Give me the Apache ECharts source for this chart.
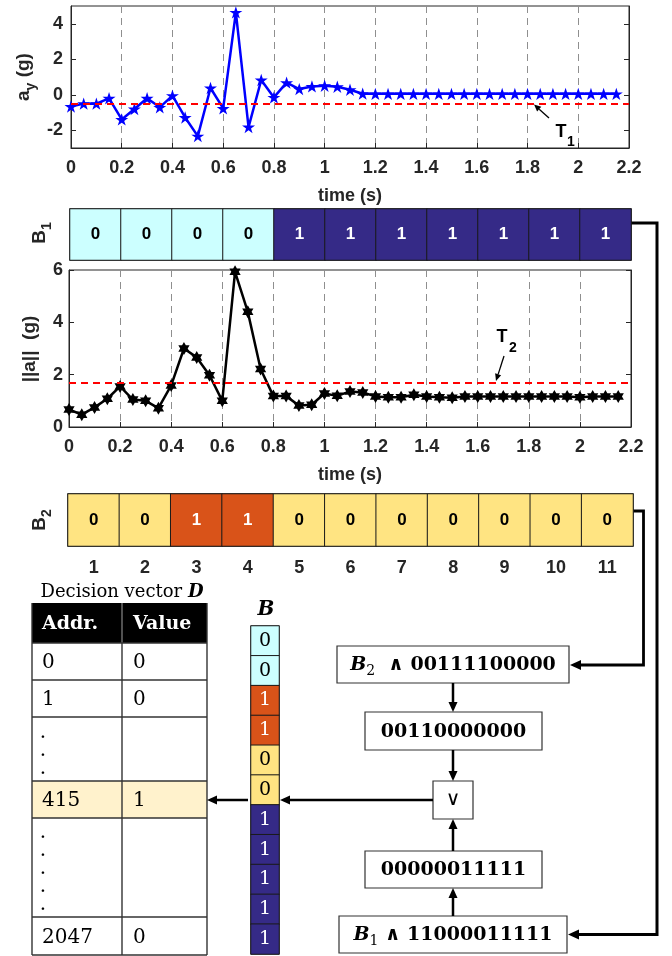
<!DOCTYPE html>
<html>
<head>
<meta charset="utf-8">
<script src="https://cdn.jsdelivr.net/npm/echarts@6/dist/echarts.min.js"></script>
<style>
html,body{margin:0;padding:0;background:#fff}
#main{width:672px;height:956px}
</style>
</head>
<body>
<div id="main"></div>
<script>
// ---- data ----
var timeS = [0,0.05,0.1,0.15,0.2,0.25,0.3,0.35,0.4,0.45,0.5,0.55,0.6,0.65,0.7,0.75,0.8,0.85,0.9,0.95,
             1,1.05,1.1,1.15,1.2,1.25,1.3,1.35,1.4,1.45,1.5,1.55,1.6,1.65,1.7,1.75,1.8,1.85,1.9,1.95,
             2,2.05,2.1,2.15];
var ayG = [-0.66,-0.5,-0.5,-0.2,-1.39,-0.8,-0.2,-0.71,-0.05,-1.28,-2.33,0.38,-0.77,4.64,-1.82,0.83,-0.15,0.68,0.32,0.47,
           0.51,0.45,0.28,0.06,0.05,0.05,0.05,0.05,0.05,0.05,0.05,0.05,0.05,0.05,0.05,0.05,0.05,0.05,0.05,0.05,
           0.05,0.05,0.05,0.05];
var accNormG = [0.67,0.47,0.75,1.08,1.55,1.05,1.0,0.72,1.59,3.0,2.66,1.98,1.0,5.93,4.4,2.22,1.18,1.18,0.82,0.85,
                1.28,1.19,1.36,1.32,1.17,1.14,1.14,1.23,1.17,1.14,1.12,1.17,1.17,1.17,1.17,1.17,1.17,1.17,1.17,1.17,
                1.14,1.17,1.17,1.17];
var T1 = -0.5;
var T2 = 1.7;
var b1Bits = [0,0,0,0,1,1,1,1,1,1,1];
var b2Bits = [0,0,1,1,0,0,0,0,0,0,0];
var windowLabels = ['1','2','3','4','5','6','7','8','9','10','11'];
var mask1 = [1,1,0,0,0,0,1,1,1,1,1];
var mask2 = [0,0,1,1,1,1,0,0,0,0,0];
var tableAddr = ['0','1','','415','','2047'];
var tableValue = ['0','0','','1','','0'];
var tableDots = [0,0,3,0,5,0];

var b1Colors = ['#CCFFFF','#352A87'];
var b2Colors = ['#FFE482','#D95319'];
var ink = '#262626';
var sans = '"Liberation Sans", Arial, sans-serif';
var serif = '"DejaVu Serif", serif';

var pentagram = 'path://M0,-10L2.245,-3.09L9.51,-3.09L3.633,1.18L5.878,8.09L0,3.82L-5.878,8.09L-3.633,1.18L-9.51,-3.09L-2.245,-3.09Z';
var hexagram = 'path://M0,-10L2.887,-5L8.66,-5L5.774,0L8.66,5L2.887,5L0,10L-2.887,5L-8.66,5L-5.774,0L-8.66,-5L-2.887,-5Z';

// B vector: B2 bits where mask2 is set, B1 bits elsewhere
var bBits = [], bColors = [];
var andB2 = '', andB1 = '';
for (var i = 0; i < b1Bits.length; i++) {
  andB2 += String(b2Bits[i] & mask2[i]);
  andB1 += String(b1Bits[i] & mask1[i]);
  if (mask2[i]) { bBits.push(b2Bits[i]); bColors.push(b2Colors[b2Bits[i]]); }
  else { bBits.push(b1Bits[i]); bColors.push(b1Colors[b1Bits[i]]); }
}

function cells(bits, colors, vertical) {
  return bits.map(function (b, k) {
    var c = colors ? colors[b] : bColors[k];
    return {
      value: vertical ? [0, k, b] : [k, 0, b],
      itemStyle: {color: c},
      label: {color: (c === '#352A87' || c === '#D95319') ? '#fff' : '#000'}
    };
  });
}

var tickFont = {color: ink, fontFamily: sans, fontWeight: 'bold', fontSize: 18};
var axisLn = {show: true, onZero: false, lineStyle: {color: ink, width: 1}};

function timeAxis(g) {
  return {
    gridIndex: g, type: 'value', min: 0, max: 2.2, interval: 0.2,
    name: 'time (s)', nameLocation: 'middle', nameGap: 39,
    nameTextStyle: tickFont,
    axisLine: axisLn,
    axisTick: {show: true, inside: true, length: 5, lineStyle: {color: ink}},
    axisLabel: Object.assign({margin: 11}, tickFont),
    splitLine: {show: true, lineStyle: {color: '#8f8f8f', type: [7, 5], width: 1}}
  };
}
function hiddenCat(g, data, inverse) {
  return {gridIndex: g, type: 'category', data: data, inverse: !!inverse,
    axisLine: {show: false}, axisTick: {show: false}, axisLabel: {show: false}, splitLine: {show: false}};
}

// ---- diagram helpers ----
function arrow(x1, y1, x2, y2, w, head) {
  var a = Math.atan2(y2 - y1, x2 - x1);
  var bx = x2 - head * Math.cos(a), by = y2 - head * Math.sin(a);
  var px = -Math.sin(a) * head * 0.45, py = Math.cos(a) * head * 0.45;
  return [
    {type: 'line', shape: {x1: x1, y1: y1, x2: bx, y2: by}, style: {stroke: '#000', lineWidth: w}},
    {type: 'polygon', shape: {points: [[x2, y2], [bx + px, by + py], [bx - px, by - py]]}, style: {fill: '#000'}}
  ];
}
function elbow(points, w, head) {
  var n = points.length;
  var last = points[n - 1], prev = points[n - 2];
  var a = Math.atan2(last[1] - prev[1], last[0] - prev[0]);
  var bx = last[0] - head * Math.cos(a), by = last[1] - head * Math.sin(a);
  var pts = points.slice(0, n - 1).concat([[bx, by]]);
  var px = -Math.sin(a) * head * 0.45, py = Math.cos(a) * head * 0.45;
  return [
    {type: 'polyline', shape: {points: pts}, style: {stroke: '#000', lineWidth: w, fill: null, lineJoin: 'miter'}},
    {type: 'polygon', shape: {points: [last, [bx + px, by + py], [bx - px, by - py]]}, style: {fill: '#000'}}
  ];
}
function box(x, y, w, h, text, rich) {
  return [
    {type: 'rect', shape: {x: x, y: y, width: w, height: h}, style: {fill: '#fff', stroke: '#333', lineWidth: 1.2}},
    {type: 'text', x: x + w / 2, y: y + h / 2 + 1,
     style: {text: text, rich: rich, align: 'center', verticalAlign: 'middle', fill: '#000',
             fontFamily: serif, fontSize: 19, fontWeight: 'bold'}}
  ];
}
var flowRich = {
  bi: {fontFamily: serif, fontSize: 19, fontWeight: 'bold', fontStyle: 'italic', fill: '#000', lineHeight: 20},
  sub: {fontFamily: serif, fontSize: 14, fill: '#000', verticalAlign: 'bottom', lineHeight: 26},
  b: {fontFamily: serif, fontSize: 19, fontWeight: 'bold', fill: '#000', lineHeight: 20}
};
var yRich = {
  n: {fontFamily: sans, fontSize: 19, fontWeight: 'bold', fill: ink, lineHeight: 22},
  s: {fontFamily: sans, fontSize: 14, fontWeight: 'bold', fill: ink, verticalAlign: 'bottom', lineHeight: 28}
};

var graphics = [];
// axis titles (rotated)
graphics.push({type: 'text', x: 24, y: 77, rotation: Math.PI / 2,
  style: {text: '{n|a}{s|y}{n| (g)}', rich: yRich, align: 'center', verticalAlign: 'middle'}});
graphics.push({type: 'text', x: 30, y: 349, rotation: Math.PI / 2,
  style: {text: '{n|||a||  (g)}', rich: yRich, align: 'center', verticalAlign: 'middle'}});
graphics.push({type: 'text', x: 40, y: 233, rotation: Math.PI / 2,
  style: {text: '{n|B}{s|1}', rich: yRich, align: 'center', verticalAlign: 'middle'}});
graphics.push({type: 'text', x: 40, y: 520, rotation: Math.PI / 2,
  style: {text: '{n|B}{s|2}', rich: yRich, align: 'center', verticalAlign: 'middle'}});

// threshold annotations
graphics.push({type: 'text', x: 561, y: 132, style: {text: 'T', fontFamily: sans, fontWeight: 'bold', fontSize: 18, fill: '#000', align: 'center', verticalAlign: 'middle'}});
graphics.push({type: 'text', x: 571, y: 142, style: {text: '1', fontFamily: sans, fontWeight: 'bold', fontSize: 14, fill: '#000', align: 'center', verticalAlign: 'middle'}});
graphics = graphics.concat(arrow(549, 118, 534, 104.5, 1.3, 7));
graphics.push({type: 'text', x: 502, y: 337, style: {text: 'T', fontFamily: sans, fontWeight: 'bold', fontSize: 18, fill: '#000', align: 'center', verticalAlign: 'middle'}});
graphics.push({type: 'text', x: 513, y: 348, style: {text: '2', fontFamily: sans, fontWeight: 'bold', fontSize: 14, fill: '#000', align: 'center', verticalAlign: 'middle'}});
graphics = graphics.concat(arrow(504, 356, 496, 381, 1.3, 7));

// decision vector table
var tX = [32, 122, 207];
var tY = [603, 643, 680, 717, 781, 818, 917, 955];
graphics.push({type: 'text', x: 122, y: 592, style: {
  text: 'Decision vector {d|D}', align: 'center', verticalAlign: 'middle', fontFamily: serif, fontSize: 18, fill: '#000',
  rich: {d: {fontFamily: serif, fontSize: 18, fontWeight: 'bold', fontStyle: 'italic', fill: '#000'}}}});
graphics.push({type: 'rect', shape: {x: tX[0], y: tY[0], width: tX[2] - tX[0], height: tY[1] - tY[0]}, style: {fill: '#000'}});
var hiRow = tableValue.indexOf('1');
graphics.push({type: 'rect', shape: {x: tX[0], y: tY[hiRow + 1], width: tX[2] - tX[0], height: tY[hiRow + 2] - tY[hiRow + 1]}, style: {fill: '#FFF2CC'}});
graphics.push({type: 'text', x: 42, y: 624, style: {text: 'Addr.', fontFamily: serif, fontWeight: 'bold', fontSize: 19, fill: '#fff', verticalAlign: 'middle'}});
graphics.push({type: 'text', x: 133, y: 624, style: {text: 'Value', fontFamily: serif, fontWeight: 'bold', fontSize: 19, fill: '#fff', verticalAlign: 'middle'}});
graphics.push({type: 'line', shape: {x1: tX[1], y1: tY[0], x2: tX[1], y2: tY[1]}, style: {stroke: '#888', lineWidth: 1.2}});
for (var r = 1; r < tY.length; r++) {
  graphics.push({type: 'line', shape: {x1: tX[0], y1: tY[r], x2: tX[2], y2: tY[r]}, style: {stroke: '#333', lineWidth: 1.4}});
}
[tX[0], tX[1], tX[2]].forEach(function (x) {
  graphics.push({type: 'line', shape: {x1: x, y1: tY[1], x2: x, y2: tY[tY.length - 1]}, style: {stroke: '#333', lineWidth: 1.4}});
});
graphics.push({type: 'line', shape: {x1: tX[0], y1: tY[0], x2: tX[0], y2: tY[1]}, style: {stroke: '#333', lineWidth: 1.4}});
graphics.push({type: 'line', shape: {x1: tX[2], y1: tY[0], x2: tX[2], y2: tY[1]}, style: {stroke: '#333', lineWidth: 1.4}});
tableAddr.forEach(function (a, k) {
  var yc = (tY[k + 1] + tY[k + 2]) / 2 + 1.5;
  if (a) graphics.push({type: 'text', x: 42, y: yc, style: {text: a, fontFamily: serif, fontSize: 20, fill: '#000', verticalAlign: 'middle'}});
  if (tableValue[k]) graphics.push({type: 'text', x: 133, y: yc, style: {text: tableValue[k], fontFamily: serif, fontSize: 20, fill: '#000', verticalAlign: 'middle'}});
  if (tableDots[k]) {
    var step = 18, first = yc - (tableDots[k] - 1) * step / 2;
    for (var d = 0; d < tableDots[k]; d++) {
      graphics.push({type: 'text', x: 43, y: first + d * step, style: {text: '.', fontFamily: serif, fontSize: 20, fill: '#000', align: 'center', verticalAlign: 'middle'}});
    }
  }
});

// B column title
graphics.push({type: 'text', x: 266, y: 610, style: {text: 'B', fontFamily: serif, fontSize: 20, fontWeight: 'bold', fontStyle: 'italic', fill: '#000', align: 'center', verticalAlign: 'middle'}});

// flow boxes
graphics = graphics.concat(box(337, 646, 232, 37, '{bi|B}{sub|2}{b|  ∧ 00111100000}', flowRich));
graphics = graphics.concat(box(365, 712, 177, 38, '{b|' + andB2 + '}', flowRich));
graphics.push({type: 'rect', shape: {x: 433, y: 781, width: 40, height: 38}, style: {fill: '#fff', stroke: '#333', lineWidth: 1.2}});
graphics.push({type: 'text', x: 453, y: 800, style: {text: '∨', fontFamily: '"DejaVu Sans", sans-serif', fontSize: 20, fill: '#000', align: 'center', verticalAlign: 'middle'}});
graphics = graphics.concat(box(365, 851, 177, 37, '{b|' + andB1 + '}', flowRich));
graphics = graphics.concat(box(339, 916, 228, 37, '{bi|B}{sub|1}{b| ∧ 11000011111}', flowRich));

// flow arrows
graphics = graphics.concat(arrow(453, 683, 453, 712, 2.5, 10));
graphics = graphics.concat(arrow(453, 750, 453, 781, 2.5, 10));
graphics = graphics.concat(arrow(453, 851, 453, 819, 2.5, 10));
graphics = graphics.concat(arrow(453, 916, 453, 888, 2.5, 10));
graphics = graphics.concat(arrow(433, 800, 280, 800, 2.5, 10));
graphics = graphics.concat(arrow(248, 800, 207, 800, 2.5, 10));
graphics = graphics.concat(elbow([[631, 223], [657, 223], [657, 934.5], [568, 934.5]], 3, 11));
graphics = graphics.concat(elbow([[633, 511], [643.5, 511], [643.5, 665], [570, 665]], 2.8, 11));

var cellLabelSans = {show: true, fontFamily: sans, fontWeight: 'bold', fontSize: 17,
  formatter: function (p) { return String(p.value[2]); }};

var option = {
  animation: false,
  backgroundColor: '#fff',
  grid: [
    {left: 71, top: 6, width: 558, height: 142, show: true, borderColor: ink, borderWidth: 1},
    {left: 70, top: 209, width: 561, height: 51, show: true, borderColor: '#333', borderWidth: 1.5},
    {left: 69, top: 270, width: 562, height: 157, show: true, borderColor: ink, borderWidth: 1},
    {left: 68, top: 494, width: 565, height: 52, show: true, borderColor: '#333', borderWidth: 1.5},
    {left: 251, top: 626, width: 28, height: 328, show: true, borderColor: '#333', borderWidth: 1.2}
  ],
  xAxis: [
    timeAxis(0),
    hiddenCat(1, windowLabels),
    timeAxis(2),
    {gridIndex: 3, type: 'category', data: windowLabels,
     axisLine: {show: false}, axisTick: {show: false}, splitLine: {show: false},
     axisLabel: Object.assign({margin: 13}, tickFont)},
    hiddenCat(4, [''])
  ],
  yAxis: [
    {gridIndex: 0, type: 'value', min: -3, max: 5,
     axisLine: axisLn, splitLine: {show: false},
     axisTick: {show: true, inside: true, length: 5, customValues: [-2, 0, 2, 4], lineStyle: {color: ink}},
     axisLabel: Object.assign({margin: 8, customValues: [-2, 0, 2, 4]}, tickFont)},
    {gridIndex: 0, type: 'value', min: -3, max: 5, position: 'right',
     axisLine: axisLn, splitLine: {show: false}, axisLabel: {show: false},
     axisTick: {show: true, inside: true, length: 5, customValues: [-2, 0, 2, 4], lineStyle: {color: ink}}},
    hiddenCat(1, ['']),
    {gridIndex: 2, type: 'value', min: 0, max: 6, interval: 2,
     axisLine: axisLn, splitLine: {show: false},
     axisTick: {show: true, inside: true, length: 5, lineStyle: {color: ink}},
     axisLabel: Object.assign({margin: 6}, tickFont)},
    {gridIndex: 2, type: 'value', min: 0, max: 6, interval: 2, position: 'right',
     axisLine: axisLn, splitLine: {show: false}, axisLabel: {show: false},
     axisTick: {show: true, inside: true, length: 5, lineStyle: {color: ink}}},
    hiddenCat(3, ['']),
    hiddenCat(4, windowLabels, true)
  ],
  series: [
    {type: 'line', xAxisIndex: 0, yAxisIndex: 0, clip: false,
     data: timeS.map(function (t, k) { return [t, ayG[k]]; }),
     symbol: pentagram, symbolSize: 13, symbolKeepAspect: true,
     lineStyle: {color: '#0000FF', width: 2.5}, itemStyle: {color: '#0000FF'},
     markLine: {silent: true, symbol: 'none', label: {show: false},
       lineStyle: {color: '#FF0000', type: [7, 5], width: 2}, data: [{yAxis: T1}]},
     z: 3},
    {type: 'heatmap', xAxisIndex: 1, yAxisIndex: 2,
     data: cells(b1Bits, b1Colors, false),
     itemStyle: {borderColor: '#1a1a1a', borderWidth: 1},
     label: cellLabelSans, emphasis: {disabled: true}},
    {type: 'line', xAxisIndex: 2, yAxisIndex: 3, clip: false,
     data: timeS.map(function (t, k) { return [t, accNormG[k]]; }),
     symbol: hexagram, symbolSize: 13, symbolKeepAspect: true,
     lineStyle: {color: '#000', width: 2.5}, itemStyle: {color: '#000'},
     markLine: {silent: true, symbol: 'none', label: {show: false},
       lineStyle: {color: '#FF0000', type: [7, 5], width: 2}, data: [{yAxis: T2}]},
     z: 3},
    {type: 'heatmap', xAxisIndex: 3, yAxisIndex: 5,
     data: cells(b2Bits, b2Colors, false),
     itemStyle: {borderColor: '#1a1a1a', borderWidth: 1},
     label: cellLabelSans, emphasis: {disabled: true}},
    {type: 'heatmap', xAxisIndex: 4, yAxisIndex: 6,
     data: cells(bBits, null, true),
     itemStyle: {borderColor: '#1a1a1a', borderWidth: 1},
     label: {show: true, fontFamily: serif, fontSize: 19,
       formatter: function (p) { return String(p.value[2]); }},
     emphasis: {disabled: true}}
  ],
  graphic: graphics
};

var chart = echarts.init(document.getElementById('main'));
chart.setOption(option);
</script>
</body>
</html>
